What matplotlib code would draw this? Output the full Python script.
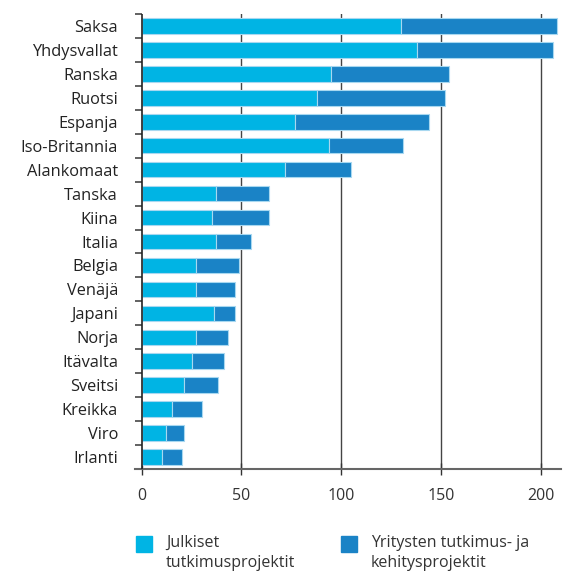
import matplotlib
matplotlib.use("Agg")
import matplotlib.pyplot as plt
from matplotlib.patches import Rectangle
import numpy as np

# Maat ja projektimäärät
maat = ["Saksa", "Yhdysvallat", "Ranska", "Ruotsi", "Espanja", "Iso-Britannia",
        "Alankomaat", "Tanska", "Kiina", "Italia", "Belgia", "Venäjä", "Japani",
        "Norja", "Itävalta", "Sveitsi", "Kreikka", "Viro", "Irlanti"]
julkiset = [130, 138, 95, 88, 77, 94, 72, 37, 35, 37, 27, 27, 36, 27, 25, 21, 15, 12, 10]
yritykset = [78, 68, 59, 64, 67, 37, 33, 27, 29, 18, 22, 20, 11, 16, 16, 17, 15, 9, 10]
xtiks = [0, 50, 100, 150, 200]

sarjat = ["Julkiset\ntutkimusprojektit", "Yritysten tutkimus- ja\nkehitysprojektit"]
varit = ["#00B4E4", "#1A83C6"]

plt.rcParams["font.family"] = ["Open Sans", "DejaVu Sans"]

fig = plt.figure(figsize=(5.63, 5.79), dpi=100)
ax = fig.add_axes([0.2393, 0.19, 0.7567, 0.7858])

y = np.arange(len(maat))
ax.barh(y, julkiset, height=0.65, color=varit[0], edgecolor="#a8d8f0",
        linewidth=0.8, zorder=3)
ax.barh(y, yritykset, left=julkiset, height=0.65, color=varit[1],
        edgecolor="#a8d8f0", linewidth=0.8, zorder=3)

ax.set_xlim(-3.5, 210)
ax.set_ylim(len(maat) - 0.5, -0.5)

# y-akseli nollakohtaan
ax.axvline(0, color="#222222", linewidth=1.2, zorder=4)
for t in xtiks[1:]:
    ax.axvline(t, color="#444444", linewidth=1.0, zorder=1)

ax.spines["left"].set_visible(False)
ax.spines["top"].set_visible(False)
ax.spines["right"].set_visible(False)
ax.spines["bottom"].set_color("#666666")
ax.spines["bottom"].set_linewidth(1.5)

ax.set_yticks(y)
ax.set_yticklabels(maat, fontsize=11.8, color="#222222")
ax.tick_params(axis="y", which="major", length=0, pad=12)
ax.set_yticks(np.arange(-0.5, len(maat), 1.0), minor=True)
ax.tick_params(axis="y", which="minor", direction="in", length=5.2,
               width=1.3, color="#555555")

ax.set_xticks(xtiks)
ax.set_xticklabels([str(t) for t in xtiks], fontsize=11.5, color="#333333")
ax.tick_params(axis="x", direction="inout", length=8, width=1.0,
               color="#333333", pad=10)

# selite
for i, (nimi, vari) in enumerate(zip(sarjat, varit)):
    x0 = [136 / 563, 341 / 563][i]
    fig.add_artist(Rectangle((x0, (579 - 552) / 579), 16 / 563, 16 / 579,
                             transform=fig.transFigure, color=vari))
    fig.text(x0 + 30 / 563, (579 - 535) / 579, nimi, fontsize=11.5,
             color="#333333", va="top", ha="left", linespacing=1.3)

fig.savefig("out.png", dpi=100)
